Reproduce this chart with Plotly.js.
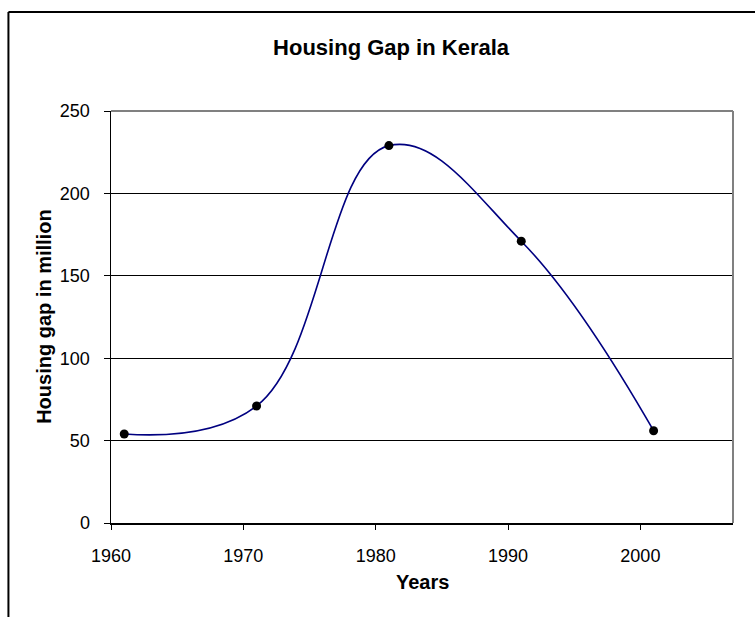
<!DOCTYPE html>
<html>
<head>
<meta charset="utf-8">
<script src="https://cdn.plot.ly/plotly-3.0.1.min.js"></script>
<style>
  html, body { margin: 0; padding: 0; background: #fff; }
  #chart { width: 755px; height: 617px; }
</style>
</head>
<body>
<div id="chart"></div>
<script>
// Census years and the housing gap (in million) recorded for each
const years = [1961, 1971, 1981, 1991, 2001];
const housingGap = [54, 71, 229, 171, 56];

const yTicks = [0, 50, 100, 150, 200, 250];
const xTicks = [1960, 1970, 1980, 1990, 2000];

const chartTitle = 'Housing Gap in Kerala';
const xTitle = 'Years';
const yTitle = 'Housing gap in million';

const FONT = '"Liberation Sans", Arial, Helvetica, sans-serif';

const trace = {
  type: 'scatter',
  mode: 'lines+markers',
  x: years,
  y: housingGap,
  line: { color: '#000080', width: 1.6, shape: 'spline', smoothing: 1.15 },
  marker: { color: '#000000', size: 9, symbol: 'circle' },
  hoverinfo: 'x+y'
};

const layout = {
  width: 755,
  height: 617,
  margin: { l: 111, r: 22, t: 111, b: 94 },
  paper_bgcolor: '#ffffff',
  plot_bgcolor: '#ffffff',
  showlegend: false,
  font: { family: FONT, color: '#000000', size: 18 },
  title: {
    text: '<b>' + chartTitle + '</b>',
    font: { family: FONT, size: 22, color: '#000000' },
    xref: 'container', x: 0.518, xanchor: 'center',
    yref: 'container', y: 0.924, yanchor: 'middle'
  },
  xaxis: {
    range: [1960, 2007],
    tickvals: xTicks,
    ticktext: xTicks.map(String),
    ticks: 'outside', ticklen: 5, tickwidth: 1, tickcolor: '#000000',
    ticklabelstandoff: 11,
    showline: true, linecolor: '#000000', linewidth: 1.5,
    showgrid: false, zeroline: false,
    tickfont: { family: FONT, size: 18, color: '#000000' },
    fixedrange: true
  },
  yaxis: {
    range: [0, 250],
    tickvals: yTicks,
    ticktext: yTicks.map(String),
    ticks: 'outside', ticklen: 6, tickwidth: 1, tickcolor: '#000000',
    ticklabelstandoff: 10,
    showline: true, linecolor: '#000000', linewidth: 1.5,
    showgrid: true, gridcolor: '#000000', gridwidth: 1,
    zeroline: false,
    tickfont: { family: FONT, size: 18, color: '#000000' },
    fixedrange: true
  },
  annotations: [
    {
      text: '<b>' + xTitle + '</b>',
      xref: 'paper', yref: 'paper', x: 0.5, y: -0.143,
      xanchor: 'center', yanchor: 'middle', showarrow: false,
      font: { family: FONT, size: 20, color: '#000000' }
    },
    {
      text: '<b>' + yTitle + '</b>',
      xref: 'paper', yref: 'paper', x: -0.108, y: 0.5,
      xanchor: 'center', yanchor: 'middle', showarrow: false, textangle: -90,
      font: { family: FONT, size: 20, color: '#000000' }
    }
  ],
  shapes: [
    // grey frame on the top and right of the plot area
    { type: 'line', xref: 'paper', yref: 'paper', x0: 0, x1: 1, y0: 1, y1: 1,
      line: { color: '#808080', width: 2 }, layer: 'above' },
    { type: 'line', xref: 'paper', yref: 'paper', x0: 1, x1: 1, y0: 0, y1: 1,
      line: { color: '#808080', width: 2 }, layer: 'above' },
    // chart-area border (left and top edges)
    { type: 'line', xref: 'paper', yref: 'paper', x0: -0.1649, x1: -0.1649, y0: -0.3, y1: 1.2403,
      line: { color: '#000000', width: 2 }, layer: 'above' },
    { type: 'line', xref: 'paper', yref: 'paper', x0: -0.1649, x1: 1.2, y0: 1.2403, y1: 1.2403,
      line: { color: '#000000', width: 2 }, layer: 'above' }
  ]
};

Plotly.newPlot('chart', [trace], layout, { displayModeBar: false, staticPlot: true });
</script>
</body>
</html>
